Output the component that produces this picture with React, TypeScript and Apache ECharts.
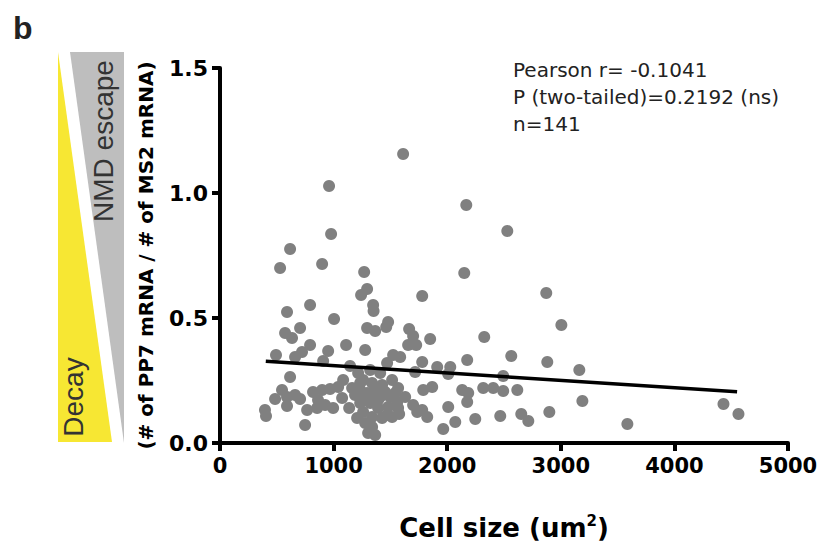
import React, { useEffect, useRef } from "react";
import * as echarts from "echarts";

const cellSize = [
  1612, 960, 2168, 2529, 978, 617, 899, 529, 1269, 2150,
  2872, 1295, 1242, 1780, 1348, 1352, 793, 590, 1004, 1480,
  1463, 3005, 1295, 1366, 1665, 1700, 705, 573, 634, 1850,
  2326, 1110, 793, 1278, 1656, 1727, 722, 661, 952, 493,
  908, 1145, 1524, 1586, 1471, 1780, 1912, 2027, 2176, 2564,
  2881, 1718, 2009, 3163, 2493, 1216, 617, 546, 485, 590,
  661, 705, 819, 899, 969, 1040, 1084, 1234, 1260, 1339,
  1427, 1515, 1568, 1339, 1410, 1498, 1560, 1789, 1868, 2132,
  2185, 2176, 2317, 2405, 2493, 2617, 3190, 1260, 590, 767,
  855, 925, 996, 1137, 396, 405, 749, 1260, 1278, 1322,
  1392, 1480, 1568, 1339, 1427, 1515, 1577, 1339, 1366, 1304,
  1700, 1780, 1824, 2009, 2071, 1965, 2247, 1322, 2467, 2652,
  2714, 2899, 3586, 4432, 4564, 1410, 1234, 1295, 1383, 1207,
  1736, 1471, 1189, 1392, 1454, 1542, 1163, 1630, 1234, 1075,
  863,
];

const ratio = [
  1.156, 1.028, 0.952, 0.848, 0.836, 0.776, 0.716, 0.7, 0.684, 0.68,
  0.6, 0.616, 0.592, 0.588, 0.552, 0.528, 0.552, 0.524, 0.496, 0.484,
  0.464, 0.472, 0.46, 0.448, 0.456, 0.428, 0.46, 0.44, 0.42, 0.416,
  0.424, 0.392, 0.392, 0.372, 0.392, 0.392, 0.364, 0.344, 0.368, 0.352,
  0.328, 0.308, 0.352, 0.344, 0.32, 0.324, 0.304, 0.304, 0.332, 0.348,
  0.324, 0.284, 0.276, 0.292, 0.268, 0.28, 0.264, 0.212, 0.176, 0.184,
  0.192, 0.176, 0.204, 0.212, 0.216, 0.224, 0.252, 0.212, 0.18, 0.24,
  0.232, 0.252, 0.22, 0.2, 0.184, 0.184, 0.164, 0.212, 0.224, 0.212,
  0.2, 0.164, 0.22, 0.22, 0.208, 0.212, 0.168, 0.252, 0.148, 0.132,
  0.14, 0.152, 0.14, 0.14, 0.132, 0.108, 0.072, 0.124, 0.08, 0.16,
  0.14, 0.144, 0.14, 0.104, 0.1, 0.104, 0.116, 0.064, 0.032, 0.04,
  0.152, 0.132, 0.104, 0.144, 0.084, 0.056, 0.096, 0.292, 0.108, 0.116,
  0.088, 0.124, 0.076, 0.156, 0.116, 0.28, 0.16, 0.2, 0.212, 0.1,
  0.124, 0.112, 0.192, 0.172, 0.204, 0.2, 0.22, 0.184, 0.24, 0.18,
  0.172,
];

const fitX = [403, 4552];
const fitY = [0.327, 0.205];

const xTicks = { min: 0, max: 5000, interval: 1000 };
const yTicks = { min: 0, max: 1.5, interval: 0.5 };

const statsLines = ["Pearson r= -0.1041", "P (two-tailed)=0.2192 (ns)", "n=141"];

export default function App() {
  const ref = useRef<HTMLDivElement>(null);
  useEffect(() => {
    if (!ref.current) return;
    const chart = echarts.init(ref.current, undefined, { renderer: "svg" });
    const arial = "Liberation Sans, Arial, sans-serif";
    const wide = "DejaVu Sans, Verdana, sans-serif";
    chart.setOption({
      animation: false,
      backgroundColor: "#ffffff",
      grid: { left: 220, right: 34, top: 68, bottom: 107 },
      xAxis: {
        type: "value",
        min: xTicks.min,
        max: xTicks.max,
        interval: xTicks.interval,
        splitLine: { show: false },
        axisLine: { show: true, onZero: false, lineStyle: { color: "#000", width: 4 } },
        axisTick: { show: true, length: 8, lineStyle: { color: "#000", width: 4 } },
        axisLabel: {
          color: "#000",
          fontSize: 21,
          fontWeight: "bold",
          fontFamily: wide,
          margin: 12,
          formatter: (v: number) => String(v),
        },
        name: "Cell size (um{sup|2})",
        nameLocation: "middle",
        nameGap: 70,
        nameTextStyle: {
          color: "#000",
          fontSize: 26,
          fontWeight: "bold",
          fontFamily: wide,
          rich: { sup: { fontSize: 15, fontWeight: "bold", fontFamily: wide, verticalAlign: "top", padding: [0, 0, 14, 0] } },
        },
      },
      yAxis: {
        type: "value",
        min: yTicks.min,
        max: yTicks.max,
        interval: yTicks.interval,
        splitLine: { show: false },
        axisLine: { show: true, onZero: false, lineStyle: { color: "#000", width: 4 } },
        axisTick: { show: true, length: 8, lineStyle: { color: "#000", width: 4 } },
        axisLabel: {
          color: "#000",
          fontSize: 22,
          fontWeight: "bold",
          fontFamily: wide,
          margin: 12,
          formatter: (v: number) => v.toFixed(1),
        },
        name: "(# of PP7 mRNA / # of MS2 mRNA)",
        nameLocation: "middle",
        nameRotate: 90,
        nameGap: 64,
        nameTextStyle: { color: "#000", fontSize: 20, fontWeight: "bold", fontFamily: wide },
      },
      series: [
        {
          type: "scatter",
          data: cellSize.map((x, i) => [x, ratio[i]]),
          symbol: "circle",
          symbolSize: 12,
          itemStyle: { color: "#808080", opacity: 1 },
          z: 2,
        },
        {
          type: "line",
          data: fitX.map((x, i) => [x, fitY[i]]),
          symbol: "none",
          lineStyle: { color: "#000", width: 3.5 },
          z: 3,
        },
      ],
      graphic: [
        {
          type: "text",
          left: 13,
          top: 12,
          style: { text: "b", fontSize: 32, fontWeight: "bold", fontFamily: arial, fill: "#222" },
        },
        {
          type: "polygon",
          shape: { points: [[58, 52], [58, 442], [112, 442]] },
          style: { fill: "#F7E733" },
        },
        {
          type: "polygon",
          shape: { points: [[70, 52], [124, 52], [124, 443]] },
          style: { fill: "#BEBEBE" },
        },
        {
          type: "text",
          x: 103,
          y: 141,
          rotation: Math.PI / 2,
          style: {
            text: "NMD escape",
            fontSize: 28,
            fontFamily: arial,
            fill: "#333",
            align: "center",
            verticalAlign: "middle",
          },
        },
        {
          type: "text",
          x: 73,
          y: 397,
          rotation: Math.PI / 2,
          style: {
            text: "Decay",
            fontSize: 28,
            fontFamily: arial,
            fill: "#333",
            align: "center",
            verticalAlign: "middle",
          },
        },
        {
          type: "text",
          left: 513,
          top: 56,
          style: {
            text: statsLines.join("\n"),
            fontSize: 20,
            lineHeight: 27,
            fontFamily: wide,
            fill: "#222",
          },
        },
      ],
    });
    return () => chart.dispose();
  }, []);
  return <div ref={ref} style={{ position: "fixed", left: 0, top: 0, width: 822, height: 550 }} />;
}
